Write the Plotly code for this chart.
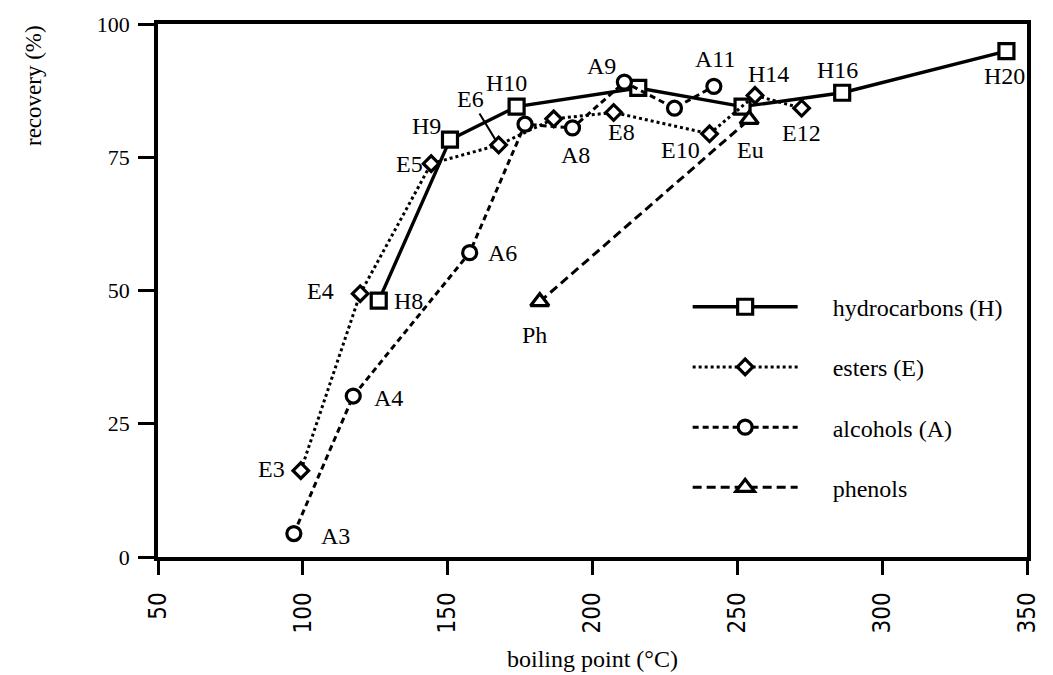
import plotly.graph_objects as go

# ---------------- data ----------------
h_bp = [126.2, 150.8, 173.8, 215.8, 251.8, 286.2, 342.9]
h_rec = [48.1, 78.3, 84.5, 88.0, 84.5, 87.1, 94.9]
h_lab = ["H8", "H9", "H10", "", "H14", "H16", "H20"]

e_bp = [99.3, 119.8, 144.3, 167.6, 186.6, 207.3, 240.4, 256.1, 272.2]
e_rec = [16.2, 49.4, 73.8, 77.3, 82.2, 83.4, 79.4, 86.6, 84.2]
e_lab = ["E3", "E4", "E5", "E6", "", "E8", "E10", "", "E12"]

a_bp = [96.9, 117.4, 157.6, 176.7, 193.1, 211.0, 228.3, 241.9]
a_rec = [4.4, 30.2, 57.1, 81.2, 80.5, 89.1, 84.2, 88.3]
a_lab = ["A3", "A4", "A6", "", "A8", "A9", "", "A11"]

p_bp = [181.8, 254.1]
p_rec = [47.9, 82.1]
p_lab = ["Ph", "Eu"]

# label offsets in px (dx right, dy down) - styling only
h_off = [(30, 0), (-23, -14), (-10, -24), (0, 0), (26, -33), (-5, -23), (-2, 25)]
e_off = [(-29, -2), (-40, -3), (-22, 0), (-28, -46), (0, 0), (8, 20), (-29, 16), (0, 0), (0, 25)]
a_off = [(42, 2), (35, 2), (33, 0), (0, 0), (3, 27), (-23, -16), (0, 0), (1, -27)]
p_off = [(-5, 33), (1, 31)]

SERIF = "Liberation Serif, Times New Roman, serif"
NARROW = "Liberation Sans Narrow, Arial Narrow, DejaVu Sans Condensed, sans-serif"
PAD = "\u00a0" * 5

fig = go.Figure()

series = [
    ("hydrocarbons (H)", h_bp, h_rec, "solid", "square", 15, 3.4),
    ("esters (E)", e_bp, e_rec, "dot", "diamond", 12, 3.0),
    ("alcohols (A)", a_bp, a_rec, "6px,4px", "circle", 14, 3.0),
    ("phenols", p_bp, p_rec, "9px,5px", "triangle-up", 16, 3.0),
]
for i, (name, xs, ys, dash, sym, size, lw) in enumerate(series):
    fig.add_trace(go.Scatter(
        x=xs, y=ys, name=PAD + name, mode="lines+markers", legendgroup=str(i),
        line=dict(color="black", width=lw, dash=dash),
        marker=dict(symbol=sym, size=size, color="white",
                    line=dict(color="black", width=3.2)),
        cliponaxis=False,
    ))

annotations = []
for xs, ys, labs, offs in [(h_bp, h_rec, h_lab, h_off), (e_bp, e_rec, e_lab, e_off),
                           (a_bp, a_rec, a_lab, a_off), (p_bp, p_rec, p_lab, p_off)]:
    for x, y, t, (dx, dy) in zip(xs, ys, labs, offs):
        if not t:
            continue
        if t == "E6":
            annotations.append(dict(x=x, y=y, text=t, showarrow=True, arrowhead=0,
                                    arrowwidth=2, arrowcolor="black", ax=dx, ay=dy,
                                    standoff=6, font=dict(family=SERIF, size=24, color="black")))
        else:
            annotations.append(dict(x=x, y=y, text=t, showarrow=False, xshift=dx, yshift=-dy,
                                    font=dict(family=SERIF, size=24, color="black")))

annotations.append(dict(xref="paper", yref="paper", x=-0.143, y=0.885, text="recovery (%)",
                        textangle=-90, showarrow=False, xanchor="center", yanchor="middle",
                        font=dict(family=SERIF, size=23, color="black")))
annotations.append(dict(xref="paper", yref="paper", x=0.5, y=-0.192, text="boiling point (°C)",
                        showarrow=False, xanchor="center", yanchor="middle",
                        font=dict(family=SERIF, size=24, color="black")))

fig.update_layout(
    width=1053, height=675,
    margin=dict(l=158, r=14, t=21, b=118),
    paper_bgcolor="white", plot_bgcolor="white",
    showlegend=True,
    legend=dict(x=0.6095, y=0.511, xanchor="left", yanchor="top",
                font=dict(family=SERIF, size=24, color="black"),
                itemwidth=105, tracegroupgap=26, traceorder="grouped",
                bgcolor="rgba(0,0,0,0)"),
    annotations=annotations,
    xaxis=dict(range=[50, 350], dtick=50, tick0=50, showgrid=False, zeroline=False,
               showline=True, linecolor="black", linewidth=3.5, mirror=True,
               ticks="outside", ticklen=14, tickwidth=3, tickcolor="black",
               ticklabelstandoff=8,
               tickangle=-90, tickfont=dict(family=NARROW, size=24, color="black")),
    yaxis=dict(range=[0, 100], dtick=25, showgrid=False, zeroline=False,
               showline=True, linecolor="black", linewidth=3.5, mirror=True,
               ticks="outside", ticklen=16, tickwidth=3, tickcolor="black",
               ticklabelstandoff=4,
               tickfont=dict(family=SERIF, size=22, color="black")),
)

fig.write_html("out.html")
